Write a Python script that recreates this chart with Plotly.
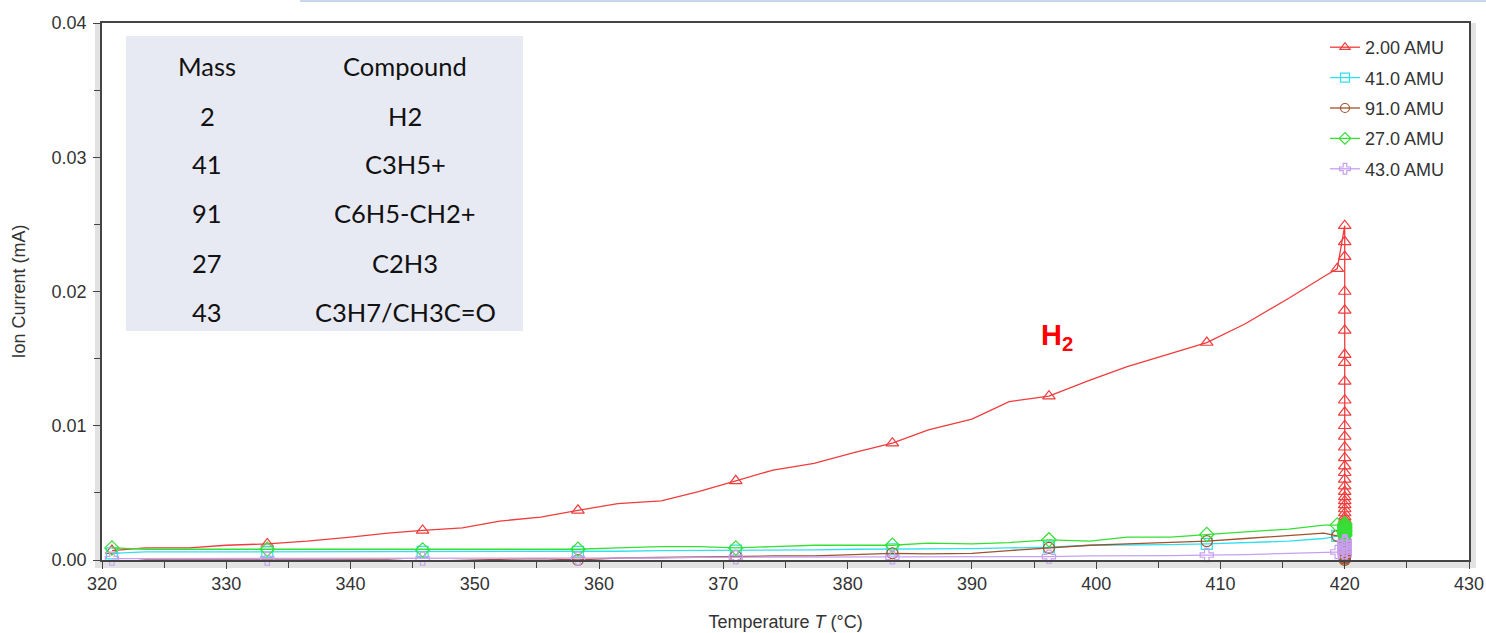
import plotly.graph_objects as go

# Temperature grid of the ramp (°C); every 4th sample carries a marker
temp_ramp = [320.8, 323.5, 327.0, 330.0, 333.3, 336.5, 340.0, 343.0, 345.8, 349.0,
             352.0, 355.3, 358.3, 361.5, 365.0, 368.0, 371.0, 374.0, 377.3, 380.5,
             383.6, 386.5, 390.0, 393.0, 396.2, 399.5, 402.5, 406.0, 408.9, 412.0,
             415.5, 418.3, 419.4]
marker_every = 4
hold_temp = 420.0

# Ion current (mA) during the ramp
i_amu2 = [0.0007, 0.0009, 0.0009, 0.0011, 0.0012, 0.0014, 0.0017, 0.0020, 0.0022, 0.0024,
          0.0029, 0.0032, 0.0037, 0.0042, 0.0044, 0.0051, 0.0059, 0.0067, 0.0072, 0.0080,
          0.0087, 0.0097, 0.0105, 0.0118, 0.0122, 0.0134, 0.0144, 0.0154, 0.0162, 0.0176,
          0.0195, 0.0211, 0.0217]
i_amu41 = [0.0005, 0.0006, 0.0006, 0.0006, 0.0006, 0.0006, 0.0006, 0.0006, 0.0006, 0.0006,
           0.0006, 0.0006, 0.0006, 0.00065, 0.0007, 0.0007, 0.0007, 0.00075, 0.00075, 0.0008,
           0.0008, 0.0008, 0.00085, 0.0009, 0.00095, 0.0011, 0.0011, 0.00115, 0.0012, 0.0013,
           0.0014, 0.0016, 0.0018]
i_amu91 = [-0.0002, 0.0, 0.0, 0.0, -0.00005, 0.0, 0.0, 0.0, -0.0001, 0.0,
           0.00005, 0.0001, 0.0, 0.00015, 0.0002, 0.00025, 0.0003, 0.0003, 0.0003, 0.0004,
           0.0005, 0.00045, 0.0005, 0.0007, 0.0009, 0.0011, 0.0012, 0.0013, 0.0014, 0.0016,
           0.0018, 0.0020, 0.0018]
i_amu27 = [0.0009, 0.0008, 0.0008, 0.0008, 0.0008, 0.0008, 0.0008, 0.00075, 0.00075, 0.0008,
           0.0008, 0.0008, 0.0008, 0.0009, 0.0010, 0.0010, 0.0009, 0.0010, 0.0011, 0.0011,
           0.0011, 0.00125, 0.0012, 0.0013, 0.0015, 0.0014, 0.0017, 0.0017, 0.0019, 0.0021,
           0.0023, 0.0026, 0.0026]
i_amu43 = [0.0001, 0.0001, 0.0001, 0.0001, 0.0001, 0.0001, 0.0001, 0.0001, 0.0001, 0.0001,
           0.0001, 0.0001, 0.0001, 0.00015, 0.00015, 0.0002, 0.0002, 0.0002, 0.0002, 0.0002,
           0.0002, 0.0002, 0.0002, 0.00022, 0.00025, 0.0003, 0.0003, 0.00033, 0.00037, 0.0004,
           0.0005, 0.00055, 0.0006]

# Ion current (mA) while holding at 420 °C
hold_amu2 = [0.0249, 0.0237, 0.0226, 0.0200, 0.0186, 0.0171, 0.0153, 0.0147, 0.0133, 0.0119,
             0.0110, 0.0100, 0.0092, 0.0084, 0.0076, 0.0070, 0.0065, 0.0060, 0.0055, 0.0051,
             0.0047, 0.0044, 0.0041, 0.0038, 0.0035, 0.0032, 0.0030, 0.0028, 0.0026]
hold_amu41 = [0.0019, 0.0018, 0.0017, 0.0016, 0.0015, 0.0014, 0.0013, 0.0012]
hold_amu91 = [0.0016, 0.0012, 0.0009, 0.0006, 0.0004, 0.0003, 0.0002, 0.0001, 0.0, -0.0001, -0.0002]
hold_amu27 = [0.0027, 0.0026, 0.0025, 0.0024, 0.0023, 0.0022, 0.0021, 0.0020, 0.0019, 0.0018]
hold_amu43 = [0.0006, 0.0008, 0.0010, 0.0012, 0.0013, 0.0014, 0.0012, 0.0010, 0.0008, 0.0006, 0.0004]

series_names = ["2.00 AMU", "41.0 AMU", "91.0 AMU", "27.0 AMU", "43.0 AMU"]
series_ramp = [i_amu2, i_amu41, i_amu91, i_amu27, i_amu43]
series_hold = [hold_amu2, hold_amu41, hold_amu91, hold_amu27, hold_amu43]
series_colors = ["#f03c3c", "#30e0ee", "#a0522d", "#35e035", "#c8a0f0"]
series_symbols = ["triangle-up-open", "square-open", "circle-open", "diamond-open", "cross-open"]

# Assignment table
table_mass = ["Mass", "2", "41", "91", "27", "43"]
table_compound = ["Compound", "H2", "C3H5+", "C6H5-CH2+", "C2H3", "C3H7/CH3C=O"]

fig = go.Figure()

for name, ramp, hold, color, symbol in zip(series_names, series_ramp, series_hold,
                                           series_colors, series_symbols):
    line_x = temp_ramp + [hold_temp] * len(hold)
    line_y = ramp + hold
    mk_x = temp_ramp[::marker_every] + [hold_temp] * len(hold)
    mk_y = ramp[::marker_every] + hold
    fig.add_trace(go.Scatter(x=line_x, y=line_y, mode="lines",
                             line=dict(color=color, width=1.3),
                             showlegend=False, hoverinfo="skip"))
    fig.add_trace(go.Scatter(x=mk_x, y=mk_y, mode="markers", cliponaxis=False,
                             marker=dict(symbol=symbol, size=11, color=color,
                                         line=dict(color=color, width=1.2)),
                             showlegend=False))
    fig.add_trace(go.Scatter(x=[None], y=[None], mode="lines+markers", name=name,
                             line=dict(color=color, width=1.3),
                             marker=dict(symbol=symbol, size=9, color=color,
                                         line=dict(color=color, width=1.2)),
                             legendgroup=name))

# Frame shading around the plot area
shade = "#e2e2e2"
px_l, px_r, px_t, px_b = 102, 1469, 23, 560


def to_px(px):
    return (px - px_l) / (px_r - px_l)


def to_py(py):
    return (px_b - py) / (px_b - px_t)


shapes = [
    dict(type="rect", xref="paper", yref="paper", x0=to_px(95), x1=to_px(101),
         y0=to_py(568), y1=to_py(23), fillcolor=shade, line_width=0, layer="below"),
    dict(type="rect", xref="paper", yref="paper", x0=to_px(95), x1=to_px(1476),
         y0=to_py(568), y1=to_py(561), fillcolor=shade, line_width=0, layer="below"),
    dict(type="rect", xref="paper", yref="paper", x0=to_px(1470), x1=to_px(1476),
         y0=to_py(568), y1=to_py(23), fillcolor=shade, line_width=0, layer="below"),
    dict(type="line", xref="paper", yref="paper", x0=to_px(300), x1=1.02,
         y0=to_py(1), y1=to_py(1), line=dict(color="#c8d6ee", width=2)),
    # table background
    dict(type="rect", xref="paper", yref="paper", x0=to_px(126), x1=to_px(523),
         y0=to_py(331), y1=to_py(36), fillcolor="#e8eaf3", line_width=0),
]

annotations = []
row_y = [66, 116, 164, 213, 263, 312]
for mass, comp, ry in zip(table_mass, table_compound, row_y):
    annotations.append(dict(x=to_px(207), y=to_py(ry), xref="paper", yref="paper",
                            text=mass, showarrow=False, xanchor="center", yanchor="middle",
                            font=dict(family="Lato", size=25.5, color="#111111")))
    annotations.append(dict(x=to_px(405), y=to_py(ry), xref="paper", yref="paper",
                            text=comp, showarrow=False, xanchor="center", yanchor="middle",
                            font=dict(family="Lato", size=25.5, color="#111111")))

annotations.append(dict(x=to_px(1057), y=to_py(337), xref="paper", yref="paper",
                        text="<b>H<sub>2</sub></b>", showarrow=False,
                        xanchor="center", yanchor="middle",
                        font=dict(family="Liberation Sans, Arial", size=29, color="#ff0000")))

axis_font = dict(family="Liberation Sans, Arial", size=18, color="#333333")

fig.update_layout(
    width=1486, height=633,
    margin=dict(l=px_l, r=1486 - px_r, t=px_t, b=633 - px_b, autoexpand=False),
    paper_bgcolor="white", plot_bgcolor="white",
    shapes=shapes, annotations=annotations,
    legend=dict(x=to_px(1325), y=to_py(29), xanchor="left", yanchor="top",
                font=dict(family="Liberation Sans, Arial", size=18, color="#333333"),
                bgcolor="rgba(0,0,0,0)", tracegroupgap=4, itemwidth=30),
    xaxis=dict(range=[320, 430], dtick=10, tick0=320, showgrid=False, zeroline=False,
               showline=True, mirror=True, linecolor="#444444", linewidth=1.5,
               ticks="outside", ticklen=7, tickcolor="#444444", tickwidth=1.2,
               minor=dict(dtick=5, ticks="outside", ticklen=6, tickcolor="#444444",
                          showgrid=False),
               tickfont=axis_font,
               title=dict(text="Temperature <i>T</i> (°C)", font=axis_font, standoff=22)),
    yaxis=dict(range=[0, 0.04], dtick=0.01, tickformat=".2f", showgrid=False, zeroline=False,
               showline=True, mirror=True, linecolor="#444444", linewidth=1.5,
               ticks="outside", ticklen=7, tickcolor="#444444", tickwidth=1.2,
               minor=dict(dtick=0.005, ticks="outside", ticklen=6, tickcolor="#444444",
                          showgrid=False),
               tickfont=axis_font, ticklabelstandoff=3,
               title=dict(text="Ion Current (mA)", font=axis_font, standoff=21)),
)

fig.write_html("out.html")
